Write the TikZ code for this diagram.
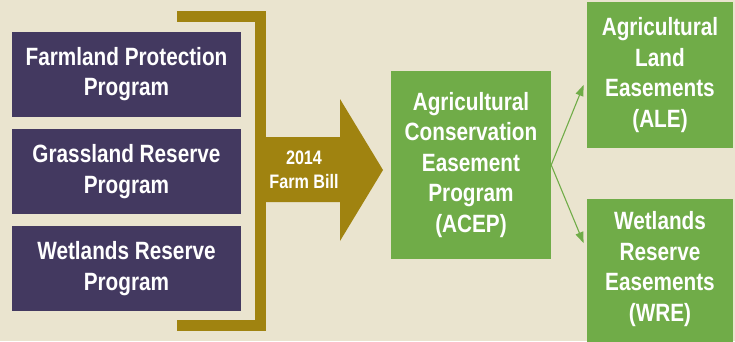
\documentclass[tikz,border=0pt]{standalone}
\usepackage{fontspec}
\setmainfont{Liberation Sans}[FakeStretch=0.83]
\usepackage{tikz}
\usetikzlibrary{arrows.meta}
\usetikzlibrary{positioning}
\definecolor{bgcream}{RGB}{234,228,207}
\definecolor{plum}{RGB}{67,57,96}
\definecolor{gold}{RGB}{160,131,16}
\definecolor{leaf}{RGB}{112,172,72}

\begin{document}
\begin{tikzpicture}[x=1pt,y=-1pt,
				every node/.style={text=white,font=\bfseries\fontsize{25}{30.5}\selectfont,align=center},
				prog/.style={fill=plum,minimum width=229pt,minimum height=85pt,inner sep=0pt},
				ease/.style={fill=leaf,minimum width=146pt,minimum height=146pt,inner sep=0pt},
				link/.style={draw=leaf,line width=1.1pt,-{Triangle[length=11pt,width=8pt]},shorten >=1pt}]
				\fill[bgcream] (0,0) rectangle (735,341);
				\useasboundingbox (0,0) rectangle (735,341);
				
				% old programs
				\node (fpp) [prog] at (126.5,74) {Farmland Protection\\Program};
				\node (grp) [prog, below=12pt of fpp] {Grassland Reserve\\Program};
				\node (wrp) [prog, below=12pt of grp] {Wetlands Reserve\\Program};
				
				% bracket and arrow
				\draw[gold,line width=11pt] (177,16.5) -| (260.5,325.5) -- (177,325.5);
				\fill[gold] (255,137) -- (340,137) -- (340,99) -- (383,170) -- (340,241) -- (340,202) -- (255,202) -- cycle;
				\node (bill) [font=\bfseries\fontsize{19.5}{23.5}\selectfont] at (304,170) {2014\\Farm Bill};
				
				% new program
				\node (acep) [fill=leaf,minimum width=160pt,minimum height=188pt,inner sep=0pt] at (471,165) {Agricultural\\Conservation\\Easement\\Program\\(ACEP)};
				\node (ale) [ease] at (660,75) {Agricultural\\Land\\Easements\\(ALE)};
				\node (wre) [ease, minimum height=150pt, anchor=north] at (660,199) {};
				\node (wretext) [below=9pt of wre.north, anchor=north] {Wetlands\\Reserve\\Easements\\(WRE)};
				
				\coordinate (aleIn) at (584,84);
				\coordinate (wreIn) at (584,244);
				\draw[link] (acep.east) -- (aleIn);
				\draw[link] (acep.east) -- (wreIn);
			\end{tikzpicture}
\end{document}
